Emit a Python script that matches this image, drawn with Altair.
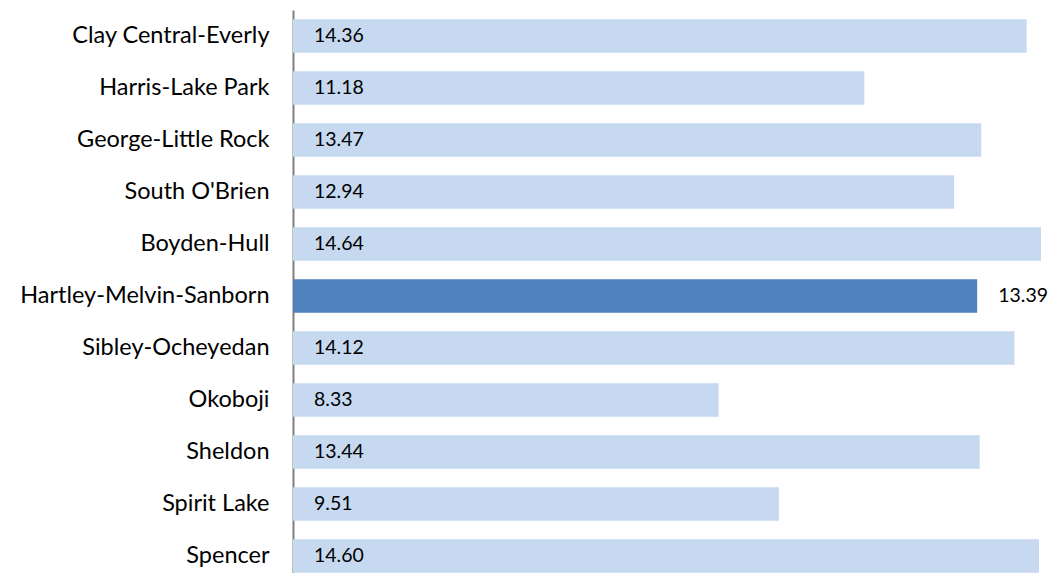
import altair as alt
import pandas as pd

districts = ["Clay Central-Everly", "Harris-Lake Park", "George-Little Rock", "South O'Brien",
             "Boyden-Hull", "Hartley-Melvin-Sanborn", "Sibley-Ocheyedan", "Okoboji",
             "Sheldon", "Spirit Lake", "Spencer"]
values = [14.36, 11.18, 13.47, 12.94, 14.64, 13.39, 14.12, 8.33, 13.44, 9.51, 14.60]
highlight = "Hartley-Melvin-Sanborn"

df = pd.DataFrame({"district": districts, "value": values})
df["hl"] = df["district"] == highlight
df["label"] = df["value"].map(lambda v: f"{v:.2f}")
df["tx"] = df.apply(lambda r: r["value"] if r["hl"] else 0.0, axis=1)

FONT = "Lato"
W = 747
H = 563
x_scale = alt.Scale(domain=[0, 14.62], nice=False, zero=True)
y_scale = alt.Scale(domain=districts, range=[0, 572], paddingInner=0.36, paddingOuter=0.18)

base = alt.Chart(df)

bars = base.mark_bar().encode(
    y=alt.Y("district:N", sort=districts, scale=y_scale,
            axis=alt.Axis(title=None, ticks=False, labelFont=FONT, labelFontSize=23.5,
                          labelColor="#000000", labelPadding=24, domainColor="#808080",
                          domainWidth=2, grid=False, labelLimit=400)),
    x=alt.X("value:Q", scale=x_scale, axis=None),
    color=alt.Color("hl:N", scale=alt.Scale(domain=[False, True], range=["#c6d9f0", "#4f81bd"]),
                    legend=None),
)

text = base.mark_text(align="left", baseline="middle", dx=21, font=FONT, fontSize=19.5,
                      color="#000000").encode(
    y=alt.Y("district:N", sort=districts, scale=y_scale),
    x=alt.X("tx:Q", scale=x_scale),
    text="label:N",
)

chart = (bars + text).properties(
    width=W, height=H,
    autosize=alt.AutoSizeParams(type="none"),
    padding={"left": 285, "top": 2, "right": 8, "bottom": 0},
).configure_view(stroke=None)

chart.save("out.html", embed_options={"renderer": "svg", "actions": False})
